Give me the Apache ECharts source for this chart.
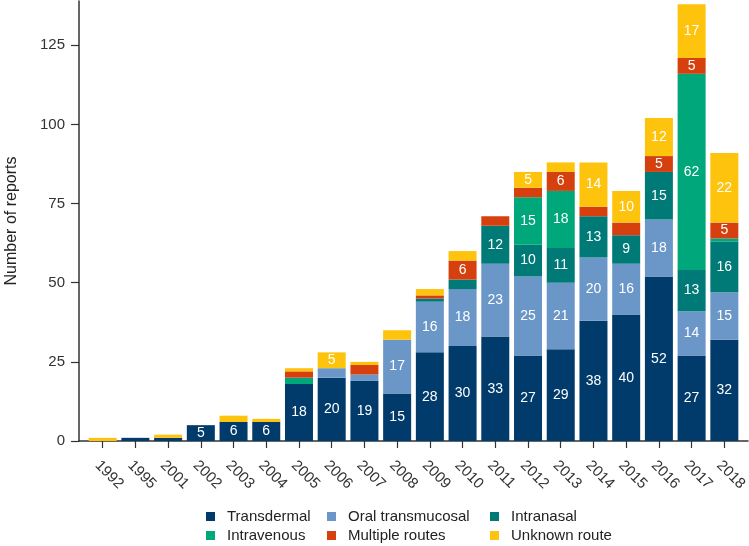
<!DOCTYPE html>
<html>
<head>
<meta charset="utf-8">
<script src="https://cdn.jsdelivr.net/npm/echarts@6/dist/echarts.min.js"></script>
<style>
html,body{margin:0;padding:0;background:#fff;}
#chart{width:749px;height:546px;}
</style>
</head>
<body>
<div id="chart"></div>
<script>
const years = ['1992','1995','2001','2002','2003','2004','2005','2006','2007','2008','2009','2010','2011','2012','2013','2014','2015','2016','2017','2018'];
const transdermal      = [0,1,1,5,6,6,18,20,19,15,28,30,33,27,29,38,40,52,27,32];
const oralTransmucosal = [0,0,0,0,0,0,0,3,2,17,16,18,23,25,21,20,16,18,14,15];
const intranasal       = [0,0,0,0,0,0,0,0,0,0,1,3,12,10,11,13,9,15,13,16];
const intravenous      = [0,0,0,0,0,0,2,0,0,0,0,0,0,15,18,0,0,0,62,1];
const multipleRoutes   = [0,0,0,0,0,0,2,0,3,0,1,6,3,3,6,3,4,5,5,5];
const unknownRoute     = [1,0,1,0,2,1,1,5,1,3,2,3,0,5,3,14,10,12,17,22];
const yTickValues = [0,25,50,75,100,125];

const seriesDefs = [
  {name:'Transdermal', values:transdermal, color:'#003b6c'},
  {name:'Oral transmucosal', values:oralTransmucosal, color:'#6a97c8'},
  {name:'Intranasal', values:intranasal, color:'#007a77'},
  {name:'Intravenous', values:intravenous, color:'#00a77a'},
  {name:'Multiple routes', values:multipleRoutes, color:'#d5400e'},
  {name:'Unknown route', values:unknownRoute, color:'#fec30d'}
];
const FONT = 'Liberation Sans, Arial, sans-serif';
const YMAX = 139;

const chart = echarts.init(document.getElementById('chart'));

const legendCols = [
  {left:206, names:['Transdermal','Intravenous']},
  {left:327, names:['Oral transmucosal','Multiple routes']},
  {left:490, names:['Intranasal','Unknown route']}
];

const option = {
  animation:false,
  backgroundColor:'#fff',
  grid:[
    {left:79, right:1, top:1, bottom:105, outerBoundsMode:'none', containLabel:false},
    {left:86.3, right:8.3, top:1, bottom:105, outerBoundsMode:'none', containLabel:false}
  ],
  legend: legendCols.map(c=>({
    data:c.names,
    orient:'vertical',
    left:c.left, top:509,
    itemGap:4,
    itemWidth:9, itemHeight:9,
    icon:'rect',
    selectedMode:false,
    padding:0,
    textStyle:{fontFamily:FONT, fontSize:15, color:'#222', padding:[0,0,0,7]}
  })),
  xAxis:[
    {
      gridIndex:0, type:'value', min:0, max:1,
      splitLine:{show:false},
      axisLine:{show:true, onZero:false, lineStyle:{color:'#333', width:1.5}},
      axisTick:{show:false}, axisLabel:{show:false}
    },
    {
      gridIndex:1, type:'category', data:years,
      axisLine:{show:false},
      axisTick:{show:true, length:7, alignWithLabel:true, lineStyle:{color:'#333', width:1.2}},
      axisLabel:{interval:0, rotate:-45, verticalAlign:'top', padding:[4,0,0,4],
        fontFamily:FONT, fontSize:15, color:'#333', margin:11}
    }
  ],
  yAxis:[
    {
      gridIndex:0, type:'value', min:0, max:YMAX,
      splitLine:{show:false},
      axisLine:{show:true, onZero:false, lineStyle:{color:'#333', width:1.5}},
      axisTick:{show:true, length:8, customValues:yTickValues, lineStyle:{color:'#333', width:1.2}},
      axisLabel:{customValues:yTickValues, fontFamily:FONT, fontSize:15, color:'#333', margin:14},
      name:'Number of reports', nameLocation:'middle', nameGap:59,
      nameTextStyle:{fontFamily:FONT, fontSize:16, color:'#222'}
    },
    {
      gridIndex:1, type:'value', min:0, max:YMAX, show:false
    }
  ],
  series: seriesDefs.map(s=>({
    name:s.name, type:'bar', stack:'total', barWidth:28,
    xAxisIndex:1, yAxisIndex:1,
    itemStyle:{color:s.color},
    data:s.values,
    label:{show:true, position:'inside', color:'#fff', fontFamily:FONT, fontSize:14,
      formatter:p=>p.value>=5?String(p.value):''}
  }))
};
chart.setOption(option);
</script>
</body>
</html>
